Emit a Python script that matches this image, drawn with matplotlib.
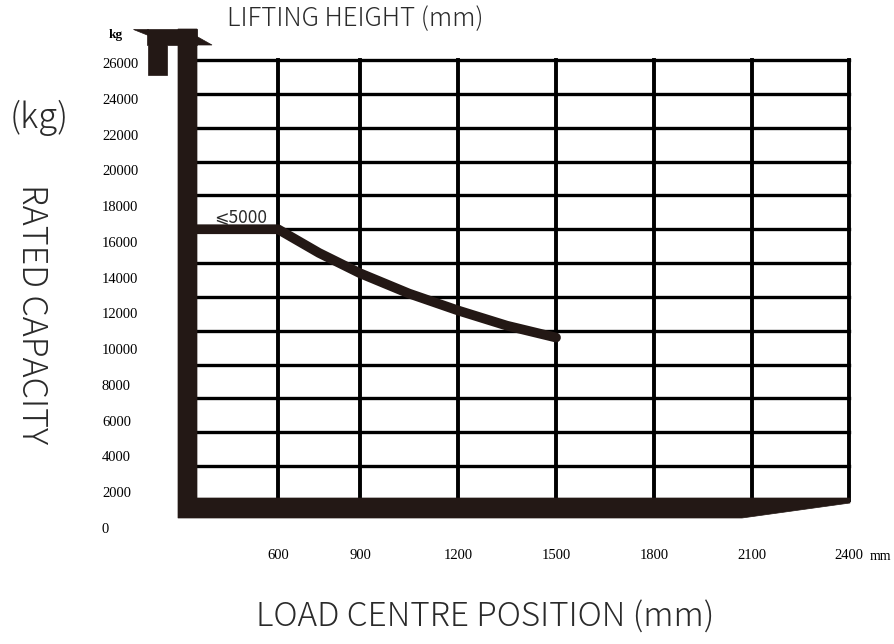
import matplotlib
matplotlib.use('Agg')
import matplotlib.pyplot as plt
import numpy as np
from matplotlib.patches import Polygon

# ---------------- data ----------------
load_centre = [300, 600, 750, 900, 1050, 1200, 1350, 1500]          # mm
capacity = [16000, 16000, 14600, 13400, 12200, 11200, 10300, 9600]  # kg
x_ticks = [600, 900, 1200, 1500, 1800, 2100, 2400]
x_tick_labels = ['600', '900', '1200', '1500', '1800', '2100', '2400']
y_grid = list(range(0, 26001, 2000))
y_tick_labels = [str(v) for v in y_grid]
lift_label = '⩽5000'

# the source grid is not evenly spaced along x: piecewise-linear scale
scale_data = [0, 300, 600, 900, 1200, 1500, 1800, 2100, 2400, 3000]
scale_pos = [0, 83, 166, 248, 346, 444, 542, 640, 737, 933]

W, H = 895, 644
INK = '#231815'
TXT = '#2a2a2a'
SANS = ['Noto Sans CJK JP', 'DejaVu Sans']
SERIF = ['Liberation Serif', 'DejaVu Serif']

fig = plt.figure(figsize=(W / 100, H / 100), dpi=100)
fig.patch.set_facecolor('white')


def frect(x0, y0, x1, y1):
    return [x0 / W, 1 - y1 / H, (x1 - x0) / W, (y1 - y0) / H]


# y tick labels axis (labels drift relative to the grid in the source)
axl = fig.add_axes(frect(195, 60, 849, 540))
for s in axl.spines.values():
    s.set_visible(False)
axl.patch.set_alpha(0)
axl.set_xticks([])
axl.set_yticks(y_grid)
axl.set_yticklabels(y_tick_labels, family=SERIF, fontsize=10.5, color='black', ha='left')
axl.tick_params(axis='y', length=0, pad=67)
axl.set_ylim(26000 * (528 - 540) / 465, 26000 * (528 - 60) / 465)

ax = fig.add_axes(frect(195, 60, 849, 500))
ax.set_xscale('function', functions=(lambda x: np.interp(x, scale_data, scale_pos),
                                     lambda u: np.interp(u, scale_pos, scale_data)))
for s in ax.spines.values():
    s.set_visible(False)
ax.patch.set_alpha(0)

# grid
ax.hlines(y_grid[1:], 300, 2400, colors='black', linewidth=2.4, clip_on=False,
          capstyle='projecting', zorder=2)
ax.vlines(x_ticks, 0, 26000, colors='black', linewidth=2.8, clip_on=False,
          capstyle='projecting', zorder=2)

# load curve
ax.plot(load_centre, capacity, color=INK, linewidth=7, solid_capstyle='round',
        solid_joinstyle='round', clip_on=False, zorder=3)
ax.text(load_centre[0] + 70, capacity[0] + 650, lift_label, fontsize=12.5,
        family=SANS, color=TXT, ha='left', va='center', zorder=4)

# x ticks
ax.set_xticks(x_ticks)
ax.set_xticklabels(x_tick_labels, family=SERIF, fontsize=10.5, color='black')
ax.tick_params(axis='x', length=0, pad=35)
ax.set_yticks([])
ax.set_xlim(300, 2400)
ax.set_ylim(0, 26000)

# frame decoration (mast + fork) in figure-pixel coordinates
deco = fig.add_axes([0, 0, 1, 1])
deco.set_xlim(0, W)
deco.set_ylim(H, 0)
deco.axis('off')
shapes = [
    [(147, 29), (197, 29), (197, 45), (167, 45), (167, 75), (148, 75), (148, 45), (147, 45)],
    [(133, 29), (148, 29), (148, 35)],
    [(196, 36), (212, 45), (196, 45)],
    [(178, 29), (197, 29), (197, 498), (850, 498), (850, 503), (742, 518), (178, 518)],
]
for pts in shapes:
    deco.add_patch(Polygon(pts, closed=True, facecolor=INK, edgecolor=INK, linewidth=0.5))

# texts
fig.text(355 / W, 1 - 19 / H, 'LIFTING HEIGHT (mm)', family=SANS, fontsize=18.5,
         color=TXT, ha='center', va='center', fontweight='light')
fig.text(485 / W, 1 - 617 / H, 'LOAD CENTRE POSITION (mm)', family=SANS, fontsize=24,
         color=TXT, ha='center', va='center', fontweight='light')
fig.text(39 / W, 1 - 118 / H, '(kg)', family=SANS, fontsize=25,
         color=TXT, ha='center', va='center', fontweight='light')
fig.text(32 / W, 1 - 314 / H, 'RATED CAPACITY', family=SANS, fontsize=24.5,
         color=TXT, ha='center', va='center', rotation=270, fontweight='light')
fig.text(116 / W, 1 - 35 / H, 'kg', family=SERIF, fontsize=9.5,
         color='black', ha='center', va='center', fontweight='bold')
fig.text(880 / W, 1 - 556 / H, 'mm', family=SERIF, fontsize=10,
         color='black', ha='center', va='center')

fig.savefig('out.png', dpi=100, facecolor='white')
